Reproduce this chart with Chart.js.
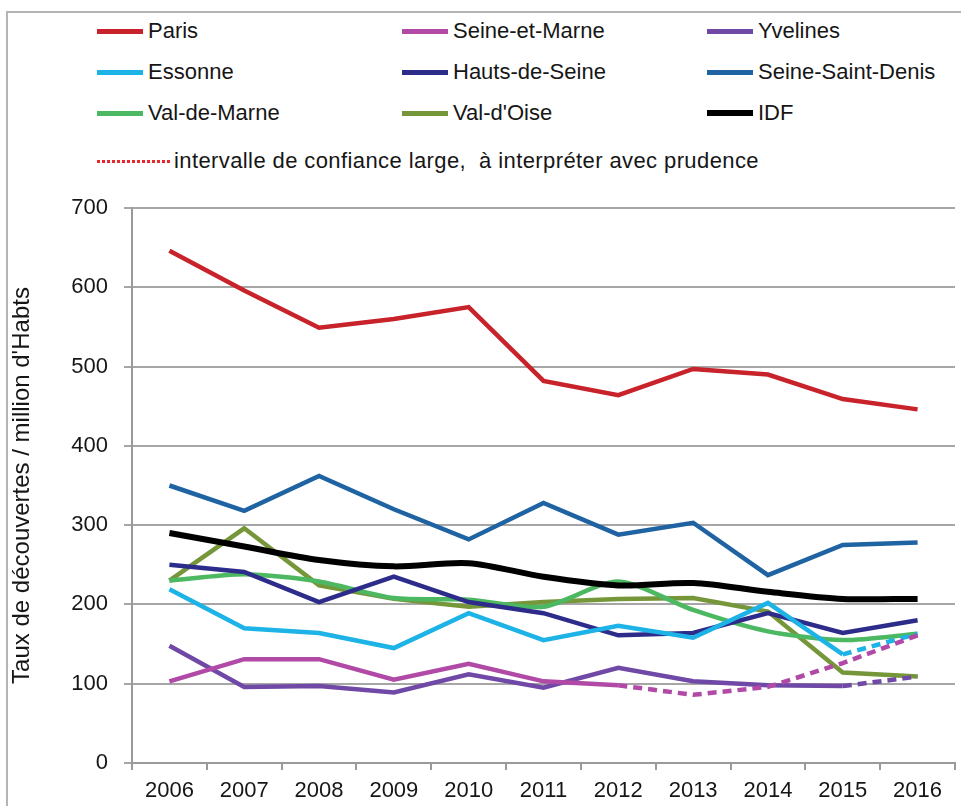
<!DOCTYPE html>
<html lang="fr">
<head>
<meta charset="utf-8">
<title>Taux de découvertes par département</title>
<script src="https://cdn.jsdelivr.net/npm/chart.js@4/dist/chart.umd.min.js"></script>
<style>
  body { margin: 0; background: #fff; }
  #wrap { position: relative; width: 961px; height: 806px; overflow: hidden; }
  #cadre { position: absolute; left: 6px; top: 11px; right: -4px; bottom: -4px;
           border-left: 2px solid #b4b4b4; border-top: 2px solid #b4b4b4; }
  #legende { position: absolute; left: 0; top: 0; width: 961px; height: 190px;
             font-family: "Liberation Sans", Arial, sans-serif; font-size: 22px; color: #161616; }
  .item { position: absolute; display: flex; align-items: center; white-space: pre; height: 30px; }
  .note { letter-spacing: 0.4px; }
  .trait { display: inline-block; width: 46px; margin-right: 5px; }
  .pointille { width: 73px; height: 3px; margin-right: 4px;
               background: repeating-linear-gradient(90deg, #e8262e 0 3px, transparent 3px 5px); }
  #graph { position: absolute; left: 0; top: 0; }
</style>
</head>
<body>
<div id="wrap">
  <div id="cadre"></div>
  <div id="legende"></div>
  <canvas id="graph" width="961" height="806"></canvas>
</div>
<script>
const annees = ["2006", "2007", "2008", "2009", "2010", "2011", "2012", "2013", "2014", "2015", "2016"];

const paris         = [646, 596, 549, 560, 575, 482, 464, 497, 490, 459, 446];
const seineEtMarne  = [103, 131, 131, 105, 125, 103, 98, 86, 96, 126, 161];
const yvelines      = [148, 96, 97, 89, 112, 95, 120, 103, 98, 97, 109];
const essonne       = [219, 170, 164, 145, 189, 155, 173, 158, 202, 137, 163];
const hautsDeSeine  = [250, 241, 203, 235, 203, 189, 161, 164, 189, 164, 180];
const seineStDenis  = [350, 318, 362, 320, 282, 328, 288, 303, 237, 275, 278];
const valDeMarne    = [230, 238, 229, 208, 206, 197, 229, 193, 166, 155, 163];
const valDOise      = [230, 296, 224, 207, 197, 203, 207, 208, 191, 114, 109];
const idf           = [290, 273, 256, 248, 252, 235, 224, 227, 216, 207, 207];

const noms    = ["Paris", "Seine-et-Marne", "Yvelines", "Essonne", "Hauts-de-Seine",
                 "Seine-Saint-Denis", "Val-de-Marne", "Val-d'Oise", "IDF"];
const series  = [paris, seineEtMarne, yvelines, essonne, hautsDeSeine,
                 seineStDenis, valDeMarne, valDOise, idf];
const couleurs = ["#c8222b", "#b04aa6", "#7049a6", "#1db3e6", "#2d2c8a",
                  "#1f63a3", "#4db862", "#76963a", "#000000"];
const epaisseurs = [4.5, 4.5, 4.5, 4.5, 4.5, 4.5, 4.5, 4.5, 6];
const lissage    = [0, 0, 0, 0, 0, 0, 0.25, 0, 0.3];
// index de l'année à partir de laquelle le trait devient pointillé (-1 = jamais)
const debutPointille = [-1, 6, 9, 9, -1, -1, -1, -1, -1];
const noteIntervalle = "intervalle de confiance large,  à interpréter avec prudence";

// légende sur trois colonnes
const legende = document.getElementById("legende");
const colX = [97, 402, 707];
const rangY = [31, 72, 113];
noms.forEach((nom, i) => {
  const div = document.createElement("div");
  div.className = "item";
  div.style.left = colX[i % 3] + "px";
  div.style.top = (rangY[Math.floor(i / 3)] - 15) + "px";
  div.innerHTML = `<span class="trait" style="border-top:${Math.round(epaisseurs[i])}px solid ${couleurs[i]}"></span>${nom}`;
  legende.appendChild(div);
});
const note = document.createElement("div");
note.className = "item note";
note.style.left = "97px";
note.style.top = (161 - 15) + "px";
note.innerHTML = `<span class="pointille"></span>${noteIntervalle}`;
legende.appendChild(note);

const jeux = series.map((valeurs, i) => ({
  label: noms[i],
  data: valeurs,
  borderColor: couleurs[i],
  backgroundColor: couleurs[i],
  borderWidth: epaisseurs[i],
  tension: lissage[i],
  pointRadius: 0,
  fill: false,
  order: i === 8 ? 0 : 1,
  segment: {
    borderDash: ctx => (debutPointille[i] >= 0 && ctx.p0DataIndex >= debutPointille[i]) ? [9, 6] : undefined
  }
}));

const police = { family: "'Liberation Sans', Arial, sans-serif", size: 22 };

new Chart(document.getElementById("graph"), {
  type: "line",
  data: { labels: annees, datasets: jeux },
  options: {
    responsive: false,
    animation: false,
    events: [],
    layout: { padding: { top: 208, right: 6, left: 0, bottom: 0 } },
    plugins: { legend: { display: false }, tooltip: { enabled: false } },
    scales: {
      x: {
        offset: true,
        grid: { drawOnChartArea: false, drawTicks: true, tickLength: 7, offset: true, color: "#9a9a9a", lineWidth: 2 },
        border: { color: "#9a9a9a", width: 2 },
        ticks: { font: police, color: "#161616", padding: 8, maxRotation: 0 },
        afterFit: s => { s.height = 43; }
      },
      y: {
        min: 0,
        max: 700,
        grid: { color: "#a6a6a6", lineWidth: 2, tickLength: 8 },
        border: { color: "#9a9a9a", width: 2 },
        ticks: { stepSize: 100, font: police, color: "#161616", padding: 16 },
        title: {
          display: true,
          text: "Taux de découvertes / million d'Habts",
          font: { family: police.family, size: 24 },
          color: "#161616",
          padding: { top: 8, bottom: 0 }
        },
        afterFit: s => { s.width = 132; }
      }
    }
  }
});
</script>
</body>
</html>
